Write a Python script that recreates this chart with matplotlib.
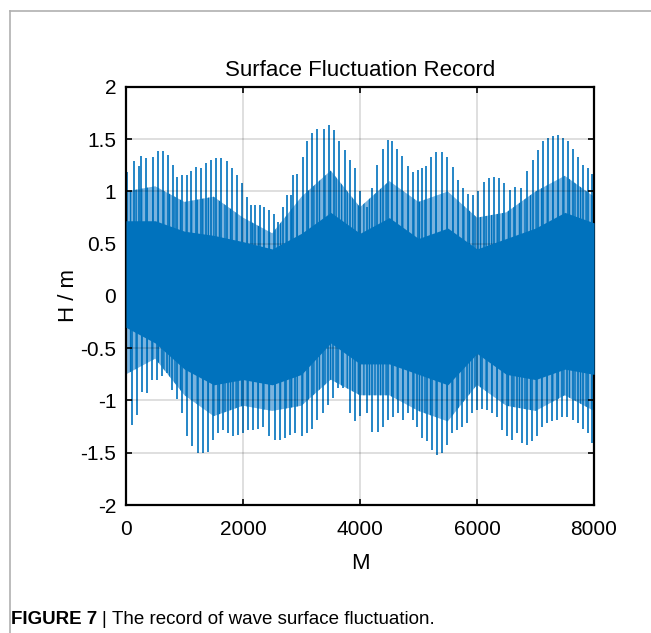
import matplotlib.pyplot as plt
from matplotlib.lines import Line2D

# tall crests of the record (sample index, height in m)
crest_m = [23, 137, 222, 251, 342, 456, 553, 627, 724, 809, 878, 952, 1037, 1111, 1197,
           1282, 1368, 1453, 1539, 1624, 1721, 1806, 1892, 1977, 2063, 2137, 2205, 2291,
           2365, 2450, 2530, 2604, 2690, 2747, 2815, 2860, 2918, 3020, 3100, 3185, 3259,
           3385, 3470, 3561, 3647, 3744, 3829, 3915, 4000, 4114, 4199, 4285, 4387, 4473,
           4553, 4638, 4724, 4815, 4900, 4986, 5054, 5128, 5214, 5299, 5396, 5493, 5584,
           5681, 5766, 5852, 5937, 6023, 6120, 6211, 6296, 6382, 6467, 6564, 6650, 6752,
           6849, 6952, 7037, 7122, 7208, 7293, 7379, 7464, 7550, 7635, 7732, 7818, 7903, 7960]
crest_h = [1.19, 1.29, 1.24, 1.34, 1.32, 1.33, 1.39, 1.39, 1.35, 1.25, 1.14, 1.16, 1.16, 1.20, 1.23,
           1.22, 1.27, 1.30, 1.32, 1.32, 1.29, 1.22, 1.16, 1.08, 0.95, 0.87, 0.87, 0.87,
           0.85, 0.82, 0.78, 0.71, 0.85, 0.97, 0.97, 1.16, 1.17, 1.33, 1.48, 1.56, 1.60,
           1.60, 1.64, 1.59, 1.48, 1.40, 1.30, 1.22, 1.00, 0.85, 1.03, 1.25, 1.41, 1.49,
           1.48, 1.41, 1.34, 1.24, 1.19, 1.21, 1.22, 1.24, 1.33, 1.38, 1.38, 1.33, 1.23,
           1.11, 1.03, 0.98, 0.97, 1.00, 1.09, 1.13, 1.14, 1.13, 1.08, 1.01, 1.04, 1.03,
           1.20, 1.30, 1.40, 1.48, 1.51, 1.53, 1.54, 1.51, 1.48, 1.41, 1.33, 1.25, 1.22, 1.17]

# deep troughs
trough_m = [97, 182, 268, 353, 439, 524, 610, 695, 781, 866, 952, 1037, 1123, 1236, 1322,
            1407, 1493, 1578, 1664, 1749, 1835, 1920, 2006, 2091, 2176, 2262, 2347, 2450,
            2547, 2632, 2718, 2803, 2889, 3003, 3088, 3174, 3259, 3373, 3459, 3544, 3630,
            3715, 3829, 3915, 4000, 4114, 4199, 4313, 4399, 4484, 4570, 4655, 4741, 4826,
            4912, 4969, 5054, 5140, 5225, 5311, 5396, 5481, 5567, 5652, 5738, 5823, 5909,
            5994, 6080, 6165, 6251, 6336, 6422, 6507, 6593, 6678, 6764, 6849, 6935, 7020,
            7105, 7191, 7276, 7362, 7447, 7533, 7647, 7732, 7818, 7903, 7960]
trough_h = [-1.23, -1.14, -0.92, -0.93, -0.80, -0.80, -0.77, -0.74, -0.90, -0.99, -1.12, -1.34,
            -1.44, -1.50, -1.50, -1.49, -1.38, -1.31, -1.28, -1.31, -1.34, -1.33, -1.31, -1.28,
            -1.28, -1.27, -1.25, -1.34, -1.38, -1.38, -1.36, -1.33, -1.31, -1.34, -1.31, -1.27,
            -1.19, -1.12, -1.04, -0.98, -0.88, -0.88, -1.12, -1.20, -1.15, -1.12, -1.30, -1.30,
            -1.25, -1.19, -1.16, -1.12, -1.19, -1.12, -1.19, -1.25, -1.36, -1.39, -1.47, -1.52,
            -1.50, -1.43, -1.31, -1.28, -1.25, -1.22, -1.12, -1.09, -1.08, -1.09, -1.12, -1.16,
            -1.28, -1.34, -1.38, -1.31, -1.41, -1.43, -1.39, -1.34, -1.25, -1.22, -1.20, -1.19,
            -1.16, -1.16, -1.19, -1.22, -1.27, -1.31, -1.41]

# envelope of the smaller waves and of the dense core
band_m = [0, 500, 1000, 1500, 2000, 2500, 3000, 3500, 4000, 4500, 5000, 5500, 6000, 6500, 7000, 7500, 8000]
mid_hi = [1.00, 1.05, 0.90, 0.95, 0.75, 0.60, 0.95, 1.20, 0.85, 1.10, 0.90, 1.00, 0.75, 0.80, 1.00, 1.15, 0.95]
mid_lo = [-0.75, -0.60, -0.95, -1.15, -1.05, -1.10, -1.05, -0.80, -0.95, -0.95, -1.10, -1.20, -0.85, -1.05, -1.10, -0.95, -1.10]
core_hi = [0.72, 0.72, 0.62, 0.58, 0.52, 0.45, 0.60, 0.80, 0.60, 0.75, 0.55, 0.65, 0.45, 0.55, 0.65, 0.80, 0.70]
core_lo = [-0.30, -0.45, -0.70, -0.85, -0.80, -0.85, -0.75, -0.45, -0.65, -0.65, -0.75, -0.85, -0.55, -0.75, -0.80, -0.70, -0.75]

blue = '#0072BD'
plt.rcParams['font.family'] = ['Liberation Sans', 'DejaVu Sans']
plt.rcParams['hatch.linewidth'] = 1.0

fig = plt.figure(figsize=(6.51, 6.33), dpi=100)
ax = fig.add_axes([0.1935, 0.2022, 0.719, 0.6604])

ax.fill_between(band_m, mid_lo, mid_hi, facecolor='#7ab3de', edgecolor=blue,
                hatch='|||', lw=0, zorder=1)
ax.vlines(crest_m, 0, crest_h, color=blue, lw=1.2, zorder=2)
ax.vlines(trough_m, trough_h, 0, color=blue, lw=1.2, zorder=2)
ax.fill_between(band_m, core_lo, core_hi, color=blue, lw=0, zorder=3)

ax.set_xlim(0, 8000)
ax.set_ylim(-2, 2)
ax.set_xticks([0, 2000, 4000, 6000, 8000])
ax.set_yticks([-2, -1.5, -1, -0.5, 0, 0.5, 1, 1.5, 2])
ax.set_yticklabels(['-2', '-1.5', '-1', '-0.5', '0', '0.5', '1', '1.5', '2'])
ax.grid(True, color='black', alpha=0.15, lw=1.2, zorder=4)
ax.set_axisbelow(False)
ax.tick_params(direction='in', length=4, width=1.2, labelsize=15, colors='black',
               top=True, right=True)
ax.tick_params(axis='x', pad=11)
ax.tick_params(axis='y', pad=7)
for s in ax.spines.values():
    s.set_linewidth(1.6)

ax.set_title('Surface Fluctuation Record', fontsize=16, pad=8)
ax.set_xlabel('M', fontsize=16, labelpad=10)
ax.set_ylabel('H / m', fontsize=16, labelpad=1)

# page frame of the figure panel
fig.add_artist(Line2D([9.5 / 651, 1], [1 - 10.5 / 633] * 2, color='#b0b0b0', lw=1.2))
fig.add_artist(Line2D([9.5 / 651] * 2, [0, 1 - 10.5 / 633], color='#b0b0b0', lw=1.2))

cap_y = 1 - 620 / 633
cap_font = ['Liberation Sans Narrow', 'Liberation Sans']
fig.text(11 / 651, cap_y, 'FIGURE 7', fontsize=13.5, fontweight='bold',
         va='center', family=cap_font)
fig.text(101 / 651, cap_y, '|', fontsize=13.5, va='center', family=cap_font)
fig.text(112 / 651, cap_y, 'The record of wave surface fluctuation.', fontsize=13.5,
         va='center', family=cap_font)

fig.savefig('out.png', dpi=100)
